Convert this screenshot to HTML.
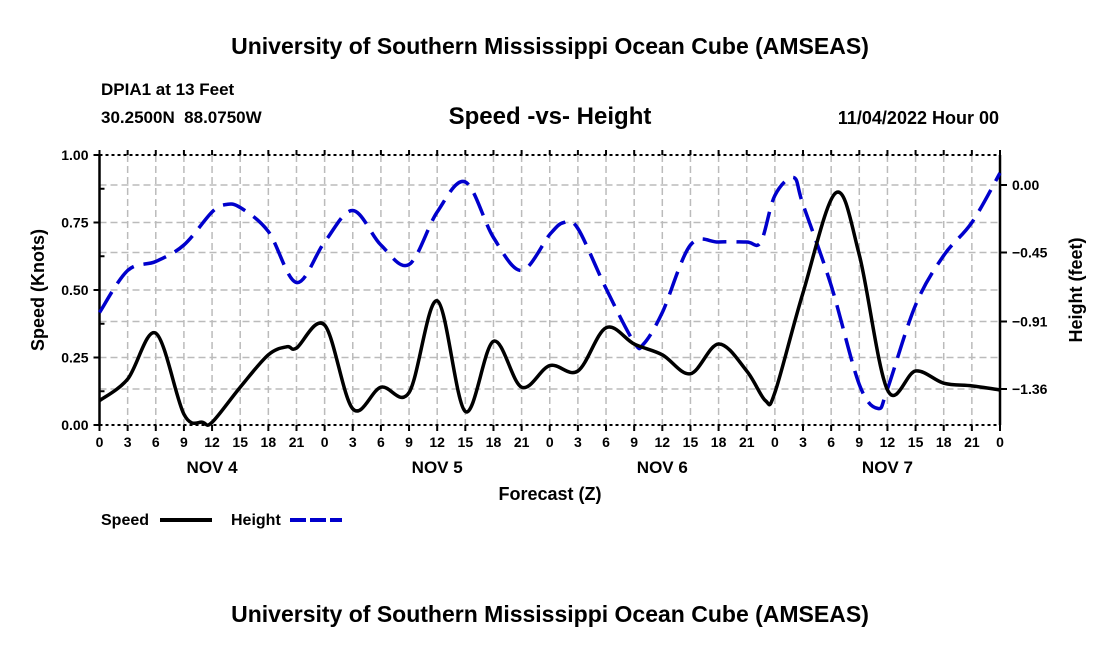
<!DOCTYPE html>
<html><head><meta charset="utf-8"><style>
body{margin:0;background:#fff;font-family:"Liberation Sans",sans-serif}
svg text{font-family:"Liberation Sans",sans-serif;font-weight:bold;white-space:pre}
</style></head><body>
<svg id="c" width="1100" height="650">
<text x="550" y="54" font-size="23" text-anchor="middle">University of Southern Mississippi Ocean Cube (AMSEAS)</text>
<text x="101" y="95" font-size="17">DPIA1 at 13 Feet</text>
<text x="101" y="123" font-size="17" xml:space="preserve">30.2500N  88.0750W</text>
<text x="550" y="124" font-size="24" text-anchor="middle">Speed -vs- Height</text>
<text x="999" y="124" font-size="18" text-anchor="end">11/04/2022 Hour 00</text>
<text x="550" y="500" font-size="18" text-anchor="middle">Forecast (Z)</text>
<text transform="translate(44,290) rotate(-90)" font-size="18" text-anchor="middle">Speed (Knots)</text>
<text transform="translate(1082,290) rotate(-90)" font-size="18" text-anchor="middle">Height (feet)</text>
<g>
<text x="101" y="525" font-size="16">Speed</text>
<line x1="160" y1="520" x2="212" y2="520" stroke="#000" stroke-width="4"/>
<text x="231" y="525" font-size="16">Height</text>
<line x1="290" y1="520" x2="342" y2="520" stroke="#00c" stroke-width="4" stroke-dasharray="16,4"/>
</g>
<text x="550" y="622" font-size="23" text-anchor="middle">University of Southern Mississippi Ocean Cube (AMSEAS)</text>
<g id="g"></g>
</svg>
<script>
const speedHours=[0,3,6,9,11,12,15,18,20,21,24,27,30,33,36,39,42,45,48,51,54,57,60,63,66,69,71,72,75,78.5,81,84,87,90,93,96];
const speedVals=[0.09,0.17,0.34,0.04,0.01,0.01,0.14,0.26,0.29,0.285,0.37,0.06,0.14,0.12,0.46,0.05,0.31,0.14,0.22,0.20,0.36,0.30,0.26,0.19,0.30,0.20,0.09,0.12,0.49,0.86,0.63,0.13,0.20,0.155,0.145,0.13];
const heightHours=[0,3,6,9,12,13.5,15,18,21,24,27,30,33,36,39,42,45,48,49.5,51,54,57,58,60,63,66,69,70.5,72,74,75,78,81,83,84,87,90,93,96];
const heightVals=[-0.85,-0.57,-0.51,-0.40,-0.18,-0.13,-0.15,-0.31,-0.65,-0.38,-0.17,-0.40,-0.53,-0.18,0.02,-0.35,-0.57,-0.33,-0.25,-0.29,-0.69,-1.05,-1.06,-0.85,-0.40,-0.38,-0.38,-0.38,-0.07,0.05,-0.13,-0.67,-1.33,-1.49,-1.36,-0.80,-0.47,-0.25,0.08];
const leftTicks=[0,0.25,0.5,0.75,1.0];
const rightTicks=[0.00,-0.45,-0.91,-1.36];
const hourLabels=[0,3,6,9,12,15,18,21];
const dayLabels=["NOV 4","NOV 5","NOV 6","NOV 7"];
const X0=99.5,X1=1000,Y0=425,Y1=155;
const xs=h=>X0+(X1-X0)*h/96;
const yl=v=>Y0-(Y0-Y1)*v;
const yr=f=>185-150*f;
const NS="http://www.w3.org/2000/svg";
const g=document.getElementById('g');
function mk(t,a,p){const e=document.createElementNS(NS,t);for(const k in a)e.setAttribute(k,a[k]);(p||g).appendChild(e);return e;}
for(let i=1;i<32;i++){const x=xs(i*3);
const l=mk('line',{x1:x,y1:Y1,x2:x,y2:Y0,stroke:'#bbb','stroke-width':1.5,'stroke-dasharray':'7,4'});

}
const hy=[];leftTicks.forEach(v=>hy.push(yl(v)));rightTicks.forEach(v=>hy.push(yr(v)));
hy.forEach(y=>{if(y<=Y1+1||y>=Y0-1)return;
const l=mk('line',{x1:X0,y1:y,x2:X1,y2:y,stroke:'#bbb','stroke-width':1.5,'stroke-dasharray':'7,4'});

});
[[X0,Y1,X1,Y1],[X0,Y0,X1,Y0]].forEach(a=>{const l=mk('line',{x1:a[0],y1:a[1],x2:a[2],y2:a[3],stroke:'#000','stroke-width':2,'stroke-dasharray':'3,3'});

});
[[X0,Y1,X0,Y0],[X1,Y1,X1,Y0]].forEach(a=>{const l=mk('line',{x1:a[0],y1:a[1],x2:a[2],y2:a[3],stroke:'#000','stroke-width':2.5});

});
leftTicks.forEach(v=>{const y=yl(v);
const l=mk('line',{x1:X0-6,y1:y,x2:X0,y2:y,stroke:'#000','stroke-width':2});


const t=mk('text',{x:X0-11,y:y+5,'font-size':14,'text-anchor':'end'});t.textContent=v.toFixed(2);

});
for(let v=0.125;v<1;v+=0.25){const l=mk('line',{x1:X0,y1:yl(v),x2:X0+5,y2:yl(v),stroke:'#000','stroke-width':2});

}
rightTicks.forEach(f=>{const y=yr(f);
const l=mk('line',{x1:X1,y1:y,x2:X1+7,y2:y,stroke:'#000','stroke-width':2});


const t=mk('text',{x:X1+12,y:y+5,'font-size':14});t.textContent=(f<0?'\u2212'+(-f).toFixed(2):f.toFixed(2));

});
for(let i=0;i<=32;i++){const x=xs(i*3);
const l=mk('line',{x1:x,y1:Y0,x2:x,y2:Y0+6,stroke:'#000','stroke-width':2});


const l2=mk('line',{x1:x,y1:Y1-5,x2:x,y2:Y1,stroke:'#000','stroke-width':2});


const t=mk('text',{x:x,y:Y0+22,'font-size':14,'text-anchor':'middle'});t.textContent=hourLabels[i%8];

}
dayLabels.forEach((d,i)=>{const t=mk('text',{x:xs(i*24+12),y:Y0+48,'font-size':17,'text-anchor':'middle'});t.textContent=d;

});
function smooth(pts){let d='M'+pts[0][0]+','+pts[0][1];
for(let i=0;i<pts.length-1;i++){const p0=pts[Math.max(0,i-1)],p1=pts[i],p2=pts[i+1],p3=pts[Math.min(pts.length-1,i+2)];
d+=' C'+(p1[0]+(p2[0]-p0[0])/6)+','+(p1[1]+(p2[1]-p0[1])/6)+' '+(p2[0]-(p3[0]-p1[0])/6)+','+(p2[1]-(p3[1]-p1[1])/6)+' '+p2[0]+','+p2[1];}
return d;}
const hp=mk('path',{d:smooth(heightHours.map((h,i)=>[xs(h),yr(heightVals[i])])),fill:'none',stroke:'#0000cc','stroke-width':3.5,'stroke-dasharray':'24,10'});


const sp=mk('path',{d:smooth(speedHours.map((h,i)=>[xs(h),yl(speedVals[i])])),fill:'none',stroke:'#000','stroke-width':3.5});


</script>
</body></html>
